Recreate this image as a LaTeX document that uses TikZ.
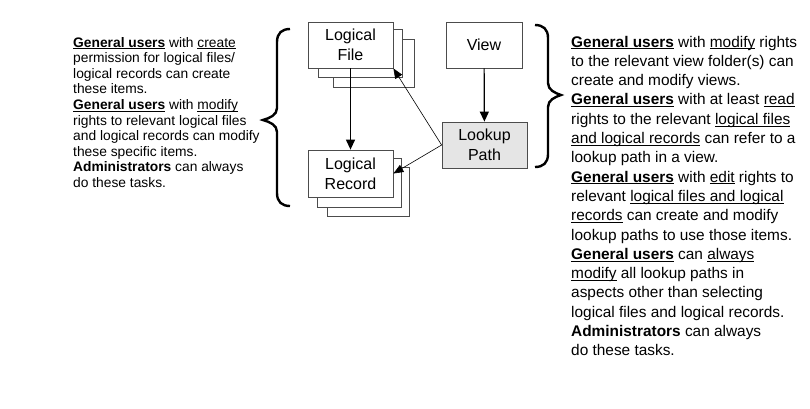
\documentclass[tikz,border=0pt]{standalone}
\usepackage{fontspec}
\setmainfont{Liberation Sans}
\usetikzlibrary{arrows.meta}
\tikzstyle{box}=[draw=black!70, line width=0.8pt, fill=white, align=center, inner sep=0pt, font=\fontsize{16}{20}\selectfont]
\tikzstyle{heavy}=[line width=1.2pt, -{Triangle[length=10pt,width=9pt]}]
\tikzstyle{light}=[line width=0.6pt, -{Triangle[length=10pt,width=8pt]}]
\tikzstyle{brace}=[line width=2.4pt]
\newcommand{\boxnode}{\node[box]}
\newcommand{\undl}[1]{\setbox0=\hbox{#1}\rlap{\rule[-2.2pt]{\wd0}{0.9pt}}\box0\relax}

\begin{document}
\begin{tikzpicture}[x=1pt,y=-1pt]
            \useasboundingbox (0,0) rectangle (810,408);
            % stacked boxes on the left
            \boxnode[minimum width=81pt, minimum height=48pt] (lf3) at (373.5,63){};
            \boxnode[minimum width=84pt, minimum height=48pt] (lf2) at (360,53){};
            \boxnode[minimum width=85pt, minimum height=46pt] (lf) at (350.5,45){Logical\\File};
            \boxnode[minimum width=82pt, minimum height=49pt] (lr3) at (368,191.5){};
            \boxnode[minimum width=84pt, minimum height=49pt] (lr2) at (359,182.5){};
            \boxnode[minimum width=85pt, minimum height=47pt] (lr) at (350.5,173.5){Logical\\Record};
            % view and lookup path
            \boxnode[minimum width=76pt, minimum height=46pt] (view) at (484,45){View};
            \boxnode[minimum width=85pt, minimum height=46pt, fill=black!10] (lp) at (484.5,145){Lookup\\Path};
            \path
                (lf) edge[heavy] (lr)
                (view) edge[heavy] (lp)
                (lp.west) edge[light] (lf.south east) edge[light] (lr.east)
            ;
            % braces
            \draw[brace] (290,29) .. controls (282,29) and (277,33) .. (277,42) -- (277,108)
                .. controls (277,115) and (270,118) .. (263,120) .. controls (270,122) and (277,125) .. (277,132)
                -- (277,193) .. controls (277,202) and (282,206) .. (290,206);
            \draw[brace] (535,25) .. controls (543,25) and (548,29) .. (548,38) -- (548,83)
                .. controls (548,90) and (555,93) .. (561,95) .. controls (555,97) and (548,100) .. (548,107)
                -- (548,154) .. controls (548,163) and (543,167) .. (535,167);
            % texts
            \node[anchor=base west, align=left, inner sep=0pt, font=\fontsize{13.8}{15.6}\selectfont] (lefttext) at (73,187.4){%
                \undl{\textbf{General users}} with \undl{create}\\
                permission for logical files/\\
                logical records can create\\
                these items.\\
                \undl{\textbf{General users}} with \undl{modify}\\
                rights to relevant logical files\\
                and logical records can modify\\
                these specific items.\\
                \textbf{Administrators} can always\\
                do these tasks.};
            \node[anchor=base west, align=left, inner sep=0pt, font=\fontsize{15.4}{19.3}\selectfont] (righttext) at (571,355.8){%
                \undl{\textbf{General users}} with \undl{modify} rights\\
                to the relevant view folder(s) can\\
                create and modify views.\\
                \undl{\textbf{General users}} with at least \undl{read}\\
                rights to the relevant \undl{logical files}\\
                \undl{and logical records} can refer to a\\
                lookup path in a view.\\
                \undl{\textbf{General users}} with \undl{edit} rights to\\
                relevant \undl{logical files and logical}\\
                \undl{records} can create and modify\\
                lookup paths to use those items.\\
                \undl{\textbf{General users}} can \undl{always}\\
                \undl{modify} all lookup paths in\\
                aspects other than selecting\\
                logical files and logical records.\\
                \textbf{Administrators} can always\\
                do these tasks.};
        \end{tikzpicture}
\end{document}
